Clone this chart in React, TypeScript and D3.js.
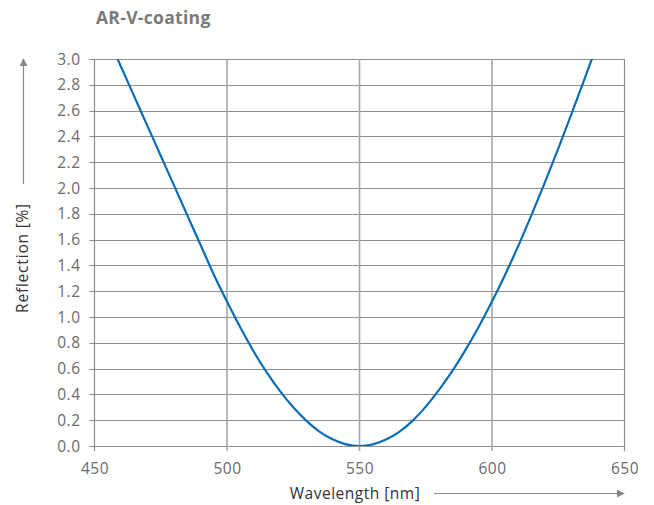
import React from "react";
import * as d3 from "d3";

const wavelengths = [455, 460, 465, 470, 475, 480, 485, 490, 495, 500, 505, 510, 515, 520, 525, 530, 535, 540, 545, 550, 555, 560, 565, 570, 575, 580, 585, 590, 595, 600, 605, 610, 615, 620, 625, 630, 635, 640];
const reflection = [3.17, 2.94, 2.71, 2.48, 2.25, 2.02, 1.79, 1.56, 1.33, 1.12, 0.92, 0.735, 0.57, 0.425, 0.3, 0.195, 0.11, 0.05, 0.0125, 0.0, 0.0125, 0.05, 0.11, 0.195, 0.305, 0.435, 0.58, 0.745, 0.925, 1.12, 1.33, 1.555, 1.795, 2.045, 2.305, 2.575, 2.85, 3.13];
const xTicks = [450, 500, 550, 600, 650];
const yTicks = [0, 0.2, 0.4, 0.6, 0.8, 1.0, 1.2, 1.4, 1.6, 1.8, 2.0, 2.2, 2.4, 2.6, 2.8, 3.0];
const title = "AR-V-coating";
const xLabel = "Wavelength [nm]";
const yLabel = "Reflection [%]";

export default function App() {
  const W = 654, H = 505;
  const x = d3.scaleLinear().domain([450, 650]).range([94.5, 624.5]);
  const y = d3.scaleLinear().domain([0, 3]).range([446, 59]);
  const pts: [number, number][] = wavelengths.map((w, i) => [w, reflection[i]]);
  const line = d3.line<[number, number]>().x(d => x(d[0])).y(d => y(d[1])).curve(d3.curveMonotoneX);
  const font = "'Open Sans', 'Noto Sans', sans-serif";
  const txt = "#6b6b6b";
  return (
    <svg width={W} height={H} style={{ position: "absolute", left: 0, top: 0 }} fontFamily={font}>
      <defs>
        <clipPath id="plot"><rect x={x(450)} y={y(3)} width={x(650) - x(450)} height={y(0) - y(3)} /></clipPath>
        <marker id="ah" viewBox="0 0 10 10" refX="9" refY="5" markerWidth="8" markerHeight="8" markerUnits="userSpaceOnUse" orient="auto">
          <path d="M0,0 L10,5 L0,10 z" fill="#888" />
        </marker>
      </defs>
      <text x={96} y={24} fontSize={17.5} fontWeight="bold" fill="#7a7a7a" letterSpacing={0.3}>{title}</text>
      {yTicks.map(t => (
        <g key={"y" + t}>
          <line x1={x(450) - 5} x2={x(650)} y1={Math.round(y(t)) + 0.5} y2={Math.round(y(t)) + 0.5} stroke="#8e8e8e" strokeWidth={1.2} />
          <text x={80.5} y={y(t)} dy="0.36em" textAnchor="end" fontSize={15.5} fill={txt} letterSpacing={0.5}>{t.toFixed(1)}</text>
        </g>
      ))}
      {xTicks.map(t => (
        <g key={"x" + t}>
          <line x1={x(t)} x2={x(t)} y1={y(3)} y2={y(0) + 5} stroke={t === 450 || t === 650 ? "#8e8e8e" : "#a8a8a8"} strokeWidth={t === 450 || t === 650 ? 1.2 : 1.6} />
          <text x={x(t) + 0.5} y={474} textAnchor="middle" fontSize={15.5} fill={txt} letterSpacing={0.5}>{t}</text>
        </g>
      ))}
      <path d={line(pts) || ""} fill="none" stroke="#0a6db5" strokeWidth={2.2} clipPath="url(#plot)" />
      <text x={355} y={499} textAnchor="middle" fontSize={15.5} fill="#333" letterSpacing={0.5}>{xLabel}</text>
      <line x1={434} x2={624} y1={493.5} y2={493.5} stroke="#888" strokeWidth={1.2} markerEnd="url(#ah)" />
      <text transform={`translate(28,258) rotate(-90)`} textAnchor="middle" fontSize={15.5} fill="#333" letterSpacing={0.8}>{yLabel}</text>
      <line x1={23.5} x2={23.5} y1={184} y2={59} stroke="#888" strokeWidth={1.2} markerEnd="url(#ah)" />
    </svg>
  );
}
